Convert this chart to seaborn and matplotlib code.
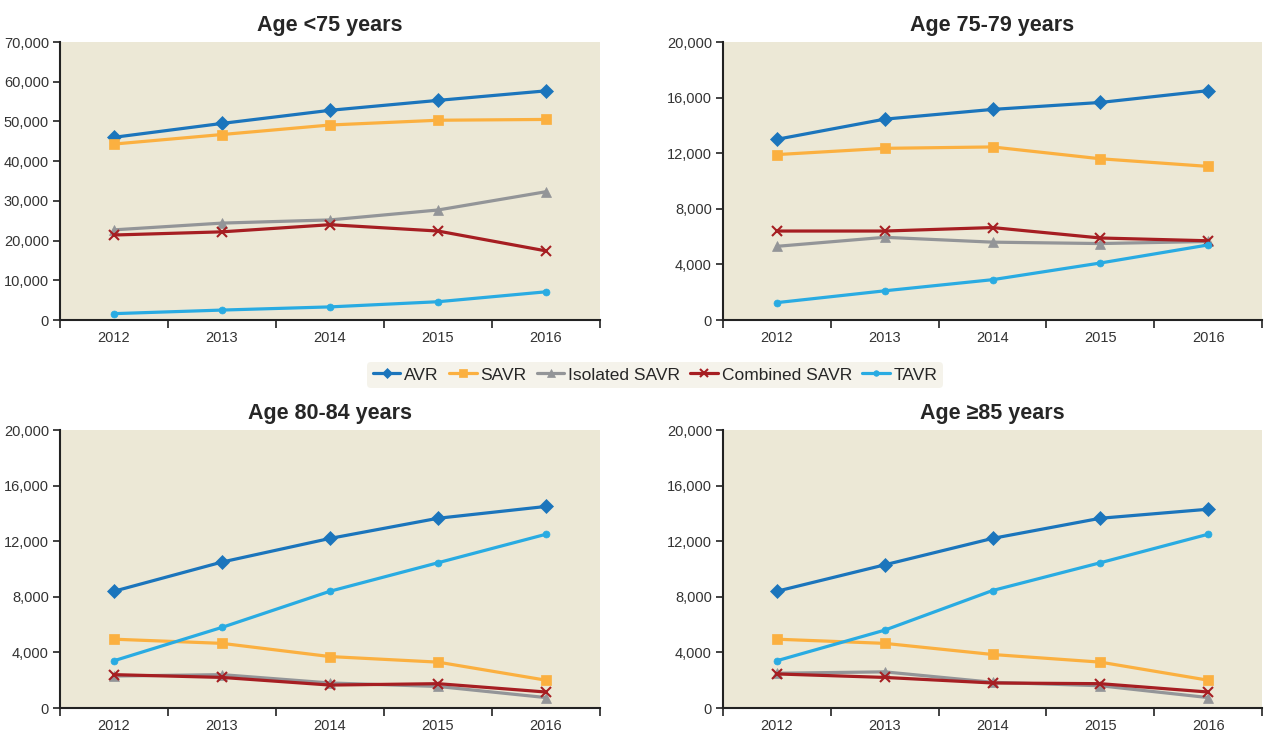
import numpy as np
import pandas as pd
import matplotlib.pyplot as plt
import seaborn as sns
from matplotlib import font_manager
from matplotlib.ticker import FuncFormatter, MultipleLocator

years = ['2012', '2013', '2014', '2015', '2016']
series = ['AVR', 'SAVR', 'Isolated SAVR', 'Combined SAVR', 'TAVR']
titles = ['Age <75 years', 'Age 75-79 years', 'Age 80-84 years', 'Age \u226585 years']

# values per panel, in order of series
age_lt75 = [[46000, 49500, 52800, 55300, 57700],
            [44300, 46700, 49100, 50300, 50500],
            [22700, 24400, 25200, 27700, 32300],
            [21400, 22200, 24000, 22400, 17400],
            [1600, 2500, 3300, 4600, 7100]]
age_75_79 = [[13000, 14450, 15150, 15650, 16500],
             [11900, 12350, 12450, 11600, 11050],
             [5300, 5950, 5600, 5500, 5650],
             [6400, 6400, 6650, 5900, 5700],
             [1250, 2100, 2900, 4100, 5400]]
age_80_84 = [[8400, 10500, 12200, 13650, 14500],
             [4950, 4650, 3700, 3300, 2000],
             [2300, 2400, 1800, 1550, 750],
             [2400, 2200, 1650, 1750, 1150],
             [3400, 5800, 8400, 10450, 12500]]
age_ge85 = [[8400, 10300, 12200, 13650, 14300],
            [4950, 4650, 3850, 3300, 2000],
            [2500, 2600, 1850, 1600, 750],
            [2450, 2200, 1800, 1750, 1150],
            [3400, 5600, 8450, 10450, 12500]]
panels = [age_lt75, age_75_79, age_80_84, age_ge85]
y_max = [70000, 20000, 20000, 20000]
y_step = [10000, 4000, 4000, 4000]

colors = {'AVR': '#1B75BC', 'SAVR': '#FBB040', 'Isolated SAVR': '#939598',
          'Combined SAVR': '#A61E22', 'TAVR': '#29ABE2'}
markers = {'AVR': 'D', 'SAVR': 's', 'Isolated SAVR': '^', 'Combined SAVR': 'x', 'TAVR': 'o'}
sizes = {'AVR': 7, 'SAVR': 7, 'Isolated SAVR': 7, 'Combined SAVR': 7, 'TAVR': 5}

sns.set_style('ticks')
names = {f.name for f in font_manager.fontManager.ttflist}
narrow = 'Liberation Sans Narrow' if 'Liberation Sans Narrow' in names else 'Liberation Sans'
plt.rcParams['font.family'] = [narrow, 'DejaVu Sans']

fig = plt.figure(figsize=(12.67, 7.32), dpi=100)
boxes = [[60, 42, 600, 320], [723, 42, 1262, 320], [60, 430, 600, 708], [723, 430, 1262, 708]]
W, H = 1267, 732

for i, data in enumerate(panels):
    x0, y0, x1, y1 = boxes[i]
    ax = fig.add_axes([x0 / W, 1 - y1 / H, (x1 - x0) / W, (y1 - y0) / H])
    rows = []
    for s, vals in zip(series, data):
        for yr, v in zip(years, vals):
            rows.append({'year': yr, 'value': v, 'series': s})
    df = pd.DataFrame(rows)
    for s in series:
        sub = df[df['series'] == s]
        sns.lineplot(data=sub, x='year', y='value', ax=ax, color=colors[s], marker=markers[s],
                     markersize=sizes[s], markeredgecolor=colors[s],
                     markeredgewidth=1.5 if s == 'Combined SAVR' else 0.5,
                     linewidth=2.3, label=s, legend=False)
    ax.set_facecolor('#ECE8D6')
    ax.set_xlim(-0.5, 4.5)
    ax.set_ylim(0, y_max[i])
    ax.yaxis.set_major_locator(MultipleLocator(y_step[i]))
    ax.yaxis.set_major_formatter(FuncFormatter(lambda v, p: f'{int(v):,}'))
    ax.set_xticks(range(5))
    ax.set_xticklabels(years)
    ax.set_xticks(np.arange(-0.5, 5, 1), minor=True)
    ax.tick_params(axis='x', which='major', length=0, pad=8, labelsize=10.5, labelcolor='#333333')
    ax.tick_params(axis='x', which='minor', length=6, width=1.2, direction='out', color='#222222')
    ax.tick_params(axis='y', length=5, width=1.2, direction='out', color='#222222', labelsize=10.5,
                   labelcolor='#333333', pad=3)
    ax.set_xlabel('')
    ax.set_ylabel('')
    for sp in ['top', 'right']:
        ax.spines[sp].set_visible(False)
    for sp in ['left', 'bottom']:
        ax.spines[sp].set_color('#222222')
        ax.spines[sp].set_linewidth(1.5)
    ax.set_title(titles[i], fontsize=15.5, fontweight='bold', pad=8)
    if i == 0:
        handles, labels = ax.get_legend_handles_labels()

leg = fig.legend(handles, labels, loc='center', bbox_to_anchor=(655 / W, 1 - 375 / H), ncol=5,
                 frameon=True, fontsize=12.5, handlelength=1.6, handletextpad=0.2, columnspacing=0.6,
                 borderpad=0.3, markerscale=0.8)
leg.get_frame().set_facecolor('#F3F1E7')
leg.get_frame().set_edgecolor('none')

fig.savefig('out.png', dpi=100)
